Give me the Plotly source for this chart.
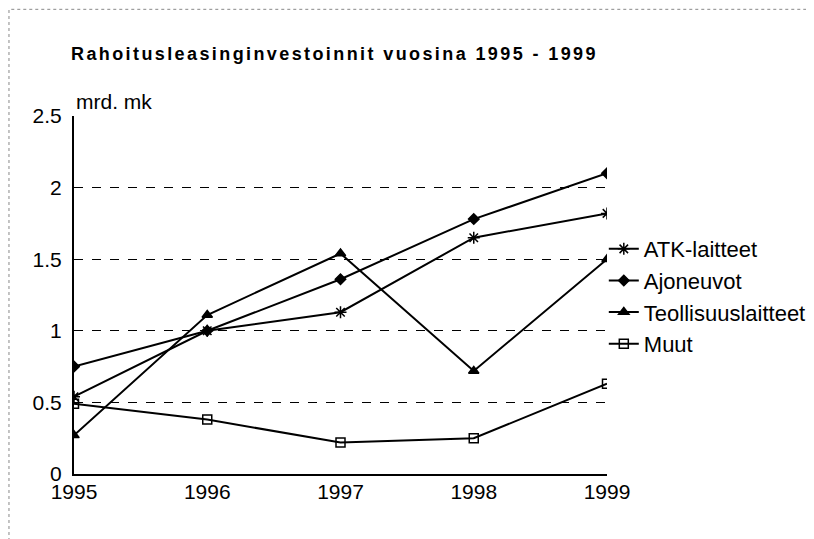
import plotly.graph_objects as go

years = [1995, 1996, 1997, 1998, 1999]
atk = [0.54, 1.0, 1.13, 1.65, 1.82]
ajoneuvot = [0.75, 1.0, 1.36, 1.78, 2.1]
teollisuus = [0.27, 1.11, 1.54, 0.72, 1.5]
muut = [0.49, 0.38, 0.22, 0.25, 0.63]

series = [
    ("ATK-laitteet", atk, "asterisk-open", 10),
    ("Ajoneuvot", ajoneuvot, "diamond", 8),
    ("Teollisuuslaitteet", teollisuus, "triangle-up", 9),
    ("Muut", muut, "square-open", 9),
]

fig = go.Figure()
for name, vals, sym, size in series:
    fig.add_trace(go.Scatter(
        x=years, y=vals, name=name, mode="lines+markers",
        line=dict(color="black", width=2),
        marker=dict(symbol=sym, size=size, color="black",
                    line=dict(color="black", width=1.5)),
    ))

font = "Arial, Liberation Sans, sans-serif"
# page body has an 8px margin, so the figure is sized to fit the 814x539 window
fig.update_layout(
    width=806, height=531,
    margin=dict(l=66, r=207, t=108, b=65, autoexpand=False),
    paper_bgcolor="white", plot_bgcolor="white",
    font=dict(family=font, color="black", size=21),
    showlegend=True,
    legend=dict(x=0.994, y=0.687, xanchor="left", yanchor="top",
                bgcolor="rgba(0,0,0,0)", font=dict(size=22),
                itemwidth=30, tracegroupgap=0),
    xaxis=dict(range=[1995, 1999], tickvals=years, showgrid=False,
               showline=True, linecolor="black", linewidth=2,
               ticks="", zeroline=False, tickfont=dict(size=21),
               automargin=False, ticklabelstandoff=-2),
    yaxis=dict(range=[0, 2.5], tickvals=[0, 0.5, 1, 1.5, 2, 2.5],
               ticktext=["0", "0.5", "1", "1.5", "2", "2.5"],
               showgrid=True, gridcolor="black", gridwidth=1, griddash="dash",
               showline=True, linecolor="black", linewidth=2,
               ticks="", zeroline=False, tickfont=dict(size=21),
               automargin=False, ticklabelstandoff=6),
    annotations=[
        dict(text="<b><span style='letter-spacing:2.4px'>Rahoitusleasinginvestoinnit vuosina 1995 - 1999</span></b>",
             xref="paper", yref="paper", x=0, y=1, xshift=-5, yshift=62,
             xanchor="left", yanchor="middle", showarrow=False,
             font=dict(size=18, family=font)),
        dict(text="mrd. mk", xref="paper", yref="paper", x=0, y=1,
             yshift=15, xanchor="left", yanchor="middle", showarrow=False,
             font=dict(size=21, family=font)),
    ],
    shapes=[
        dict(type="rect", xref="paper", yref="paper",
             x0=-0.122, x1=1.395, y0=-0.25, y1=1.298,
             line=dict(color="#888", width=1, dash="dot")),
    ],
)

fig.write_html("out.html")
